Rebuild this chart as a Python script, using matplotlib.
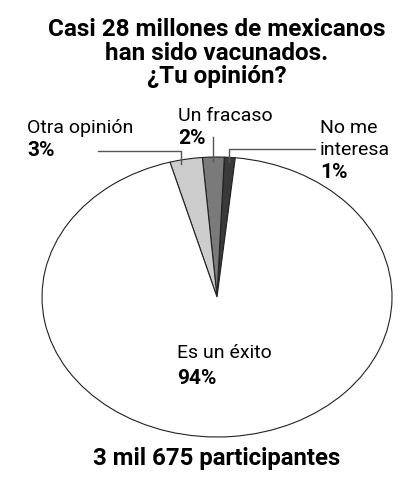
import numpy as np
import matplotlib
matplotlib.use("Agg")
import matplotlib.pyplot as plt

plt.rcParams['font.family'] = ['Roboto', 'DejaVu Sans']

# data
labels = ['No me\ninteresa', 'Un fracaso', 'Otra opinión', 'Es un éxito']
values = [1, 2, 3, 94]
colors = ['#3a3a3a', '#7a7a7a', '#cdcdcd', '#ffffff']
title = 'Casi 28 millones de mexicanos\nhan sido vacunados.\n¿Tu opinión?'
footer = '3 mil 675 participantes'

W, H = 415, 500
fig = plt.figure(figsize=(W / 100, H / 100), dpi=100)

# ellipse centre and radii in pixels
cx, cy, rx, ry = 217, 297, 175, 140
ax = fig.add_axes([(cx - rx) / W, (H - cy - ry) / H, 2 * rx / W, 2 * ry / H])
wedges, _ = ax.pie(values, colors=colors, startangle=84, counterclock=True,
                   wedgeprops=dict(edgecolor='#222222', linewidth=0.8))
ax.set_aspect('auto')
ax.set_xlim(-1, 1)
ax.set_ylim(-1, 1)
ax.axis('off')


def px(x, y):
    # figure pixel (from top-left) -> data coords of the pie axes
    return (x - cx) / rx, (cy - y) / ry


def line(points):
    xs, ys = zip(*[px(x, y) for x, y in points])
    ax.plot(xs, ys, color='#555555', lw=1, clip_on=False)


def label(x, y, s, size=14, **kw):
    fig.text(x / W, 1 - y / H, s, fontsize=size, va='center', ha='left', **kw)


def anchor(i, frac):
    w = wedges[i]
    t = np.deg2rad(w.theta1 + frac * (w.theta2 - w.theta1))
    return cx + rx * 0.97 * np.cos(t), cy - ry * 0.97 * np.sin(t)


# leader lines
ax0 = anchor(0, 0.55)
line([(315, 149), (ax0[0], 149), ax0])
ax1 = anchor(1, 0.5)
line([(ax1[0], 137), ax1])
ax2 = anchor(2, 0.7)
line([(98, 151), (ax2[0], 151), ax2])

label(27, 128, labels[2])
label(27, 151, f'{values[2]}%', size=15, fontweight='bold')
label(178, 116, labels[1])
label(178, 139, f'{values[1]}%', size=15, fontweight='bold')
l0a, l0b = labels[0].split('\n')
label(320, 128, l0a)
label(320, 150, l0b)
label(320, 173, f'{values[0]}%', size=15, fontweight='bold')
label(177, 353, labels[3])
label(177, 378, f'{values[3]}%', size=15, fontweight='bold')

fig.text(cx / W, 1 - 53 / H, title, ha='center', va='center', fontsize=17.5,
         fontweight='bold', linespacing=1.05)
fig.text(cx / W, 1 - 458 / H, footer, ha='center', va='center', fontsize=17.3,
         fontweight='bold')

fig.savefig('out.png', dpi=100, facecolor='white')
